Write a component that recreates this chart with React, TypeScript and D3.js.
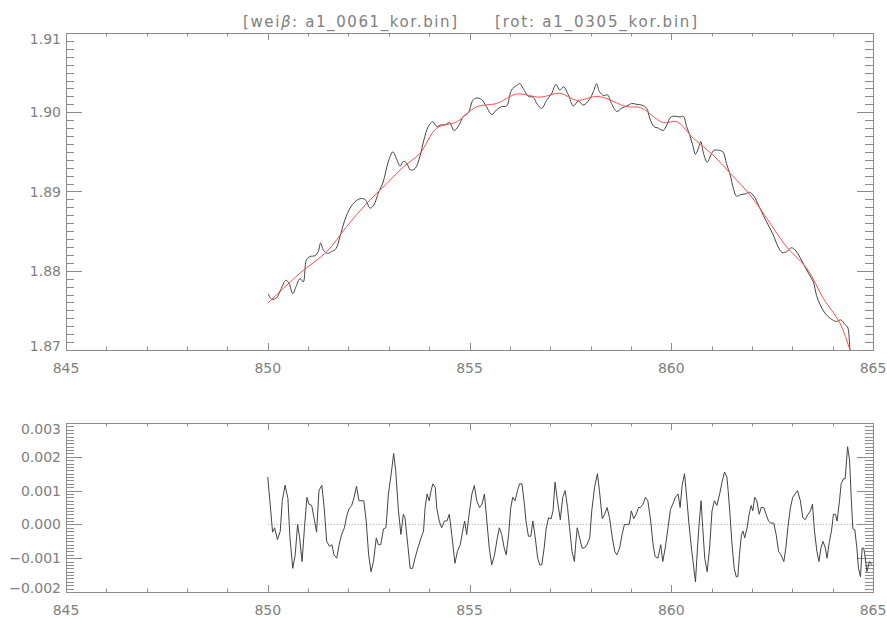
import React from "react";
import * as d3 from "d3";

// ---------- data ----------
const titleLeft = "[wei";
const titleBeta = "β";
const titleLeftRest = ": a1_0061_kor.bin]";
const titleRight = "[rot: a1_0305_kor.bin]";

const xTickLabels = ["845", "850", "855", "860", "865"];
const topYTickLabels = ["1.87", "1.88", "1.89", "1.90", "1.91"];
const botYTickLabels = ["\u22120.002", "\u22120.001", "0.000", "0.001", "0.002", "0.003"];

// observed spectrum (black)
const obsX = [850.01, 850.10, 850.22, 850.32, 850.45, 850.53, 850.62, 850.70, 850.80, 850.88, 850.96, 851.05, 851.17, 851.25, 851.31, 851.38, 851.48, 851.58, 851.69, 851.79, 851.91, 852.04, 852.16, 852.29, 852.41, 852.54, 852.63, 852.74, 852.86, 852.99, 853.10, 853.20, 853.28, 853.36, 853.44, 853.54, 853.65, 853.77, 853.87, 853.98, 854.09, 854.19, 854.29, 854.39, 854.50, 854.62, 854.72, 854.85, 854.97, 855.08, 855.18, 855.30, 855.42, 855.55, 855.67, 855.79, 855.92, 856.04, 856.17, 856.25, 856.33, 856.46, 856.58, 856.68, 856.79, 856.91, 857.04, 857.14, 857.24, 857.33, 857.45, 857.57, 857.70, 857.82, 857.97, 858.07, 858.15, 858.22, 858.33, 858.42, 858.52, 858.65, 858.77, 858.90, 859.02, 859.14, 859.27, 859.39, 859.47, 859.57, 859.68, 859.80, 859.89, 859.99, 860.09, 860.22, 860.30, 860.38, 860.46, 860.53, 860.60, 860.67, 860.73, 860.80, 860.89, 860.98, 861.06, 861.17, 861.28, 861.37, 861.46, 861.54, 861.62, 861.72, 861.83, 861.94, 862.05, 862.16, 862.28, 862.40, 862.53, 862.65, 862.75, 862.86, 862.98, 863.09, 863.19, 863.29, 863.40, 863.52, 863.60, 863.69, 863.79, 863.89, 864.00, 864.10, 864.20, 864.31, 864.37, 864.43, 864.46];
const obsY = [1.8771, 1.8764, 1.8766, 1.8776, 1.8788, 1.8784, 1.8771, 1.8780, 1.8790, 1.8786, 1.8814, 1.8818, 1.8819, 1.8824, 1.8835, 1.8826, 1.8822, 1.8824, 1.8828, 1.8843, 1.8864, 1.8879, 1.8887, 1.8891, 1.8890, 1.8879, 1.8883, 1.8898, 1.8912, 1.8938, 1.8950, 1.8940, 1.8932, 1.8938, 1.8936, 1.8927, 1.8929, 1.8944, 1.8965, 1.8982, 1.8988, 1.8982, 1.8984, 1.8984, 1.8987, 1.8977, 1.8982, 1.8995, 1.8999, 1.9015, 1.9018, 1.9016, 1.9007, 1.8997, 1.9003, 1.9007, 1.9008, 1.9028, 1.9034, 1.9036, 1.9030, 1.9020, 1.9019, 1.9010, 1.9005, 1.9015, 1.9024, 1.9035, 1.9028, 1.9032, 1.9022, 1.9008, 1.9014, 1.9009, 1.9016, 1.9026, 1.9036, 1.9026, 1.9021, 1.9022, 1.9011, 1.9001, 1.9005, 1.9008, 1.9011, 1.9010, 1.9009, 1.9005, 1.8992, 1.8982, 1.8980, 1.8977, 1.8984, 1.8994, 1.8995, 1.8994, 1.8995, 1.8982, 1.8971, 1.8959, 1.8947, 1.8954, 1.8963, 1.8948, 1.8937, 1.8946, 1.8952, 1.8952, 1.8950, 1.8935, 1.8921, 1.8904, 1.8894, 1.8896, 1.8897, 1.8899, 1.8894, 1.8883, 1.8870, 1.8858, 1.8845, 1.8830, 1.8823, 1.8824, 1.8829, 1.8825, 1.8817, 1.8807, 1.8797, 1.8786, 1.8769, 1.8757, 1.8748, 1.8742, 1.8738, 1.8736, 1.8738, 1.8732, 1.8729, 1.8700, 1.8690];

// fitted curve (red)
const fitX = [850.0, 850.8, 851.46, 851.96, 852.45, 852.95, 853.36, 853.77, 854.19, 854.68, 855.18, 855.67, 856.17, 856.75, 857.24, 857.66, 858.19, 858.9, 859.23, 859.8, 860.14, 860.55, 861.04, 861.46, 861.95, 862.37, 862.86, 863.36, 863.77, 864.18, 864.43, 864.6];
const fitY = [1.8759, 1.8797, 1.8824, 1.8856, 1.8885, 1.8910, 1.8931, 1.8948, 1.8980, 1.8988, 1.9007, 1.9011, 1.9023, 1.9019, 1.9024, 1.9015, 1.9020, 1.9007, 1.9006, 1.8987, 1.8988, 1.8967, 1.8946, 1.8923, 1.8896, 1.8866, 1.8830, 1.8803, 1.8765, 1.8734, 1.8700, 1.8675];

// residuals (bottom)
const resX = [850.00, 850.06, 850.12, 850.17, 850.24, 850.31, 850.36, 850.43, 850.50, 850.55, 850.62, 850.68, 850.74, 850.79, 850.85, 850.91, 850.97, 851.02, 851.09, 851.15, 851.21, 851.27, 851.34, 851.40, 851.46, 851.53, 851.59, 851.64, 851.71, 851.77, 851.83, 851.90, 851.96, 852.02, 852.08, 852.14, 852.20, 852.26, 852.33, 852.38, 852.44, 852.50, 852.56, 852.62, 852.69, 852.74, 852.80, 852.87, 852.93, 852.99, 853.06, 853.12, 853.17, 853.24, 853.30, 853.36, 853.40, 853.47, 853.53, 853.59, 853.65, 853.72, 853.80, 853.86, 853.90, 853.95, 854.00, 854.05, 854.09, 854.15, 854.19, 854.25, 854.31, 854.38, 854.44, 854.50, 854.56, 854.64, 854.70, 854.77, 854.83, 854.88, 854.93, 854.99, 855.06, 855.12, 855.18, 855.25, 855.31, 855.37, 855.43, 855.49, 855.55, 855.62, 855.69, 855.74, 855.80, 855.86, 855.91, 855.97, 856.02, 856.07, 856.13, 856.19, 856.24, 856.30, 856.36, 856.40, 856.46, 856.52, 856.57, 856.63, 856.69, 856.74, 856.79, 856.85, 856.90, 856.96, 857.02, 857.07, 857.12, 857.18, 857.25, 857.31, 857.37, 857.43, 857.48, 857.54, 857.60, 857.63, 857.67, 857.73, 857.79, 857.85, 857.91, 857.98, 858.03, 858.10, 858.17, 858.22, 858.29, 858.35, 858.41, 858.47, 858.54, 858.60, 858.65, 858.72, 858.78, 858.84, 858.91, 858.96, 859.01, 859.07, 859.13, 859.19, 859.24, 859.30, 859.36, 859.42, 859.49, 859.55, 859.60, 859.67, 859.74, 859.79, 859.85, 859.92, 859.98, 860.04, 860.10, 860.17, 860.22, 860.27, 860.33, 860.39, 860.44, 860.50, 860.55, 860.60, 860.65, 860.69, 860.74, 860.78, 860.83, 860.89, 860.95, 861.01, 861.07, 861.13, 861.20, 861.26, 861.32, 861.38, 861.41, 861.45, 861.50, 861.56, 861.61, 861.65, 861.69, 861.74, 861.78, 861.82, 861.88, 861.93, 861.98, 862.02, 862.07, 862.12, 862.18, 862.23, 862.29, 862.35, 862.41, 862.47, 862.54, 862.60, 862.66, 862.72, 862.79, 862.84, 862.89, 862.95, 863.01, 863.07, 863.13, 863.20, 863.26, 863.32, 863.39, 863.45, 863.50, 863.55, 863.61, 863.66, 863.71, 863.76, 863.82, 863.86, 863.92, 863.97, 864.02, 864.07, 864.11, 864.17, 864.21, 864.27, 864.31, 864.37, 864.42, 864.46, 864.50, 864.55, 864.60, 864.64, 864.69, 864.73, 864.77, 864.81, 864.85, 864.91, 864.98];
const resY = [0.0014, 0.0006, -0.00023, -0.0001, -0.00045, -0.0002, 0.0007, 0.00116, 0.00076, -0.0004, -0.0013, -0.0009, 0, -0.0004, -0.0011, -0.0001, 0.0008, 0.0006, 0.00056, 0.00017, -0.00023, 0.001, 0.00116, 0.00047, -0.0005, -0.00065, -0.0006, -0.0009, -0.001, -0.0006, -0.0003, -0.0001, 0.00027, 0.00047, 0.00056, 0.0008, 0.00113, 0.0007, 0.0007, 0.0007, 0.0001, -0.0009, -0.0014, -0.0011, -0.0004, -0.0006, -0.0006, -0.00013, -0.0001, 0.0009, 0.0015, 0.0021, 0.0016, 0.0004, -0.0003, 0.0003, 0.0002, -0.0006, -0.0013, -0.0013, -0.001, -0.0007, -0.0004, -0.0002, 0.0005, 0.0009, 0.0007, 0.001, 0.0012, 0.0011, 0.00047, 0.0001, -0.0001, 0.0001, 0.0001, 0.0003, -0.0003, -0.00115, -0.0008, -0.0006, -0.0002, 0.0001, -0.0003, 0.0003, 0.0009, 0.00115, 0.0007, 0.0005, 0.0006, 0.0009, 0.0001, -0.0007, -0.0012, -0.0009, -0.0004, -0.0001, -0.0003, -0.0007, -0.0009, -0.0003, 0.00047, 0.0008, 0.0007, 0.001, 0.0012, 0.0012, 0.0006, 0.0001, -0.00035, -0.00035, 0.0001, -0.0004, -0.001, -0.0012, -0.0012, -0.0007, -0.00013, 0.0002, 0.00016, 0.0004, 0.00125, 0.0007, 0.00014, 0.0008, 0.001, 0.0005, -0.0001, -0.0008, -0.0011, -0.0006, -0.0001, -0.0004, -0.0007, -0.0007, -0.0006, -0.0004, 0.0004, 0.0011, 0.0015, 0.001, 0.00017, 0.0003, 0.0005, 0.0002, -0.0004, -0.0008, -0.0009, -0.0007, -0.0003, 0, 0, 0, 0.0004, 0.00017, 0.0003, 0.0005, 0.0005, 0.0006, 0.0008, 0.0007, 0.0001, -0.0006, -0.00095, -0.001, -0.0006, -0.0011, -0.0007, -0.0001, 0.00044, 0.0006, 0.0008, 0.0009, 0.0005, 0.00116, 0.0015, 0.0007, 0, -0.0007, -0.0012, -0.0017, -0.0007, 0, 0.0007, -0.0001, -0.001, -0.0014, -0.0007, 0.0004, 0.0007, 0.00056, 0.0009, 0.00126, 0.00155, 0.0014, 0.001, 0.0004, -0.0005, -0.0013, -0.00155, -0.00155, -0.0009, -0.0003, -0.0002, -0.0004, -0.0001, 0.0003, 0.00056, 0.0004, 0.0008, 0.0007, 0.0003, 0.0005, 0.0005, 0.0003, 0.0001, 0.00004, 0.00004, -0.0003, -0.0008, -0.0009, -0.0011, -0.0007, -0.0001, 0.00047, 0.0008, 0.0009, 0.001, 0.0007, 0.0002, 0.00014, 0.0003, 0.0004, 0.0006, -0.0002, -0.0008, -0.0011, -0.0007, -0.0005, -0.0007, -0.001, -0.0005, -0.0002, 0.0003, 0.0003, 0.0001, 0.0007, 0.0012, 0.00135, 0.00135, 0.0023, 0.0019, 0.0008, -0.00013, -0.00016, -0.0007, -0.0013, -0.00155, -0.0007, -0.0007, -0.001, -0.0014, -0.0011, -0.0012];

const zeroLineX = [850, 865];

// ---------- layout ----------
const W = 887, H = 619;
const L = 66, R = 873;
const topT = 33, topB = 350;
const botT = 423, botB = 592;
const AX = "#8c8c8c";
const TXT = "#808080";
const FONT = "DejaVu Sans, sans-serif";

const x = d3.scaleLinear().domain([845, 865]).range([L, R]);
const yTop = d3.scaleLinear().domain([1.87, 1.91]).range([topB, topT]);
const yBot = d3.scaleLinear().domain([-0.002, 0.003]).range([botB, botT]);

function Frame({ y, t, b, minorStep, majorStep, labels }: any) {
  const els: any[] = [];
  const [d0, d1] = y.domain();
  const nMinor = Math.round((d1 - d0) / minorStep);
  const ratio = Math.round(majorStep / minorStep);
  for (let i = 0; i <= nMinor; i++) {
    const v = d0 + i * minorStep;
    const yy = Math.round(y(v)) + 0.5;
    const len = i % ratio === 0 ? 16 : 8;
    els.push(<line key={"yl" + i} x1={L} x2={L + len} y1={yy} y2={yy} stroke={AX} />);
    els.push(<line key={"yr" + i} x1={R} x2={R - len} y1={yy} y2={yy} stroke={AX} />);
  }
  for (let v = 845; v <= 865; v++) {
    const xx = Math.round(x(v)) + 0.5;
    const len = (v - 845) % 5 === 0 ? 7 : 3.5;
    els.push(<line key={"xb" + v} x1={xx} x2={xx} y1={b} y2={b - len} stroke={AX} />);
    els.push(<line key={"xt" + v} x1={xx} x2={xx} y1={t} y2={t + len} stroke={AX} />);
  }
  labels.forEach((lab: string, i: number) => {
    const v = d0 + i * majorStep;
    let yy = y(v);
    yy = Math.max(t + 6, Math.min(b - 4, yy));
    els.push(
      <text key={"lab" + i} x={61} y={yy + 5} textAnchor="end" fontSize={14} fill={TXT} fontFamily={FONT}>
        {lab}
      </text>
    );
  });
  xTickLabels.forEach((lab, i) => {
    els.push(
      <text key={"xl" + i} x={x(845 + i * 5)} y={b + 23} textAnchor="middle" fontSize={14} fill={TXT} fontFamily={FONT}>
        {lab}
      </text>
    );
  });
  els.push(<rect key="box" x={L + 0.5} y={t + 0.5} width={R - L} height={b - t} fill="none" stroke={AX} />);
  return <g>{els}</g>;
}

export default function App() {
  const obsLine = d3.line<number>().x((_, i) => x(obsX[i])).y((d) => yTop(d)).curve(d3.curveCatmullRom);
  const fitLine = d3.line<number>().x((_, i) => x(fitX[i])).y((d) => yTop(d)).curve(d3.curveCatmullRom);
  const resLine = d3.line<number>().x((_, i) => x(resX[i])).y((d) => yBot(d));

  return (
    <svg width={W} height={H} style={{ display: "block", position: "absolute", left: 0, top: 0, background: "#fff" }}>
      <defs>
        <clipPath id="clipTop">
          <rect x={L} y={topT} width={R - L} height={topB - topT} />
        </clipPath>
        <clipPath id="clipBot">
          <rect x={L} y={botT} width={R - L} height={botB - botT} />
        </clipPath>
      </defs>
      <rect x={0} y={0} width={W} height={H} fill="#fff" />
      <text x={243} y={27} fontSize={15} fill={TXT} fontFamily={FONT} textLength={214} lengthAdjust="spacing">
        {titleLeft}
        <tspan fontStyle="italic">{titleBeta}</tspan>
        {titleLeftRest}
      </text>
      <text x={495} y={27} fontSize={15} fill={TXT} fontFamily={FONT} textLength={202} lengthAdjust="spacing">
        {titleRight}
      </text>

      <Frame y={yTop} t={topT} b={topB} minorStep={0.001} majorStep={0.01} labels={topYTickLabels} />
      <Frame y={yBot} t={botT} b={botB} minorStep={0.0001} majorStep={0.001} labels={botYTickLabels} />

      <g clipPath="url(#clipTop)">
        <path d={obsLine(obsY) || ""} fill="none" stroke="#444" strokeWidth={1} />
        <path d={fitLine(fitY) || ""} fill="none" stroke="#ff5050" strokeWidth={1} />
      </g>
      <g clipPath="url(#clipBot)">
        <line x1={x(zeroLineX[0])} x2={x(zeroLineX[1])} y1={yBot(0)} y2={yBot(0)} stroke="#999" strokeDasharray="1,2" />
        <path d={resLine(resY) || ""} fill="none" stroke="#444" strokeWidth={1} />
      </g>
    </svg>
  );
}
